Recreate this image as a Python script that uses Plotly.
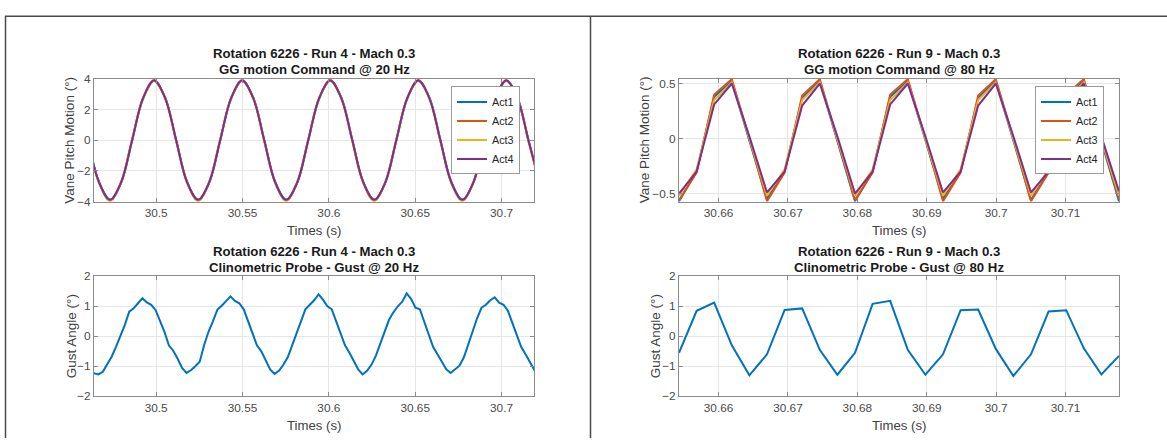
import plotly.graph_objects as go

W, H = 1167, 445

# ---------------- data ----------------
# Top-left: GG motion command @ 20 Hz (Run 4), points every 1/8 cycle
t20_cmd = [30.460550, 30.466925, 30.473300, 30.479675, 30.486050, 30.492425, 30.498800, 30.505175,
           30.511550, 30.517925, 30.524300, 30.530675, 30.537050, 30.543425, 30.549800, 30.556175,
           30.562550, 30.568925, 30.575300, 30.581675, 30.588050, 30.594425, 30.600800, 30.607175,
           30.613550, 30.619925, 30.626300, 30.632675, 30.639050, 30.645425, 30.651800, 30.658175,
           30.664550, 30.670925, 30.677300, 30.683675, 30.690050, 30.696425, 30.702800, 30.709175,
           30.715550, 30.721925]
act1_20 = [0.05, -2.70, -3.86, -2.78, -0.05, 2.70, 3.86, 2.78,
           0.05, -2.70, -3.86, -2.78, -0.05, 2.70, 3.86, 2.78,
           0.05, -2.70, -3.86, -2.78, -0.05, 2.70, 3.86, 2.78,
           0.05, -2.70, -3.86, -2.78, -0.05, 2.70, 3.86, 2.78,
           0.05, -2.70, -3.86, -2.78, -0.05, 2.70, 3.86, 2.78,
           0.05, -2.70]
act2_20 = [-0.02, -2.76, -3.90, -2.76, 0.02, 2.76, 3.90, 2.76,
           -0.02, -2.76, -3.90, -2.76, 0.02, 2.76, 3.90, 2.76,
           -0.02, -2.76, -3.90, -2.76, 0.02, 2.76, 3.90, 2.76,
           -0.02, -2.76, -3.90, -2.76, 0.02, 2.76, 3.90, 2.76,
           -0.02, -2.76, -3.90, -2.76, 0.02, 2.76, 3.90, 2.76,
           -0.02, -2.76]
act3_20 = [-0.05, -2.80, -3.95, -2.72, 0.05, 2.72, 3.85, 2.72,
           -0.05, -2.80, -3.95, -2.72, 0.05, 2.72, 3.85, 2.72,
           -0.05, -2.80, -3.95, -2.72, 0.05, 2.72, 3.85, 2.72,
           -0.05, -2.80, -3.95, -2.72, 0.05, 2.72, 3.85, 2.72,
           -0.05, -2.80, -3.95, -2.72, 0.05, 2.72, 3.85, 2.72,
           -0.05, -2.80]
act4_20 = [0.00, -2.74, -3.88, -2.74, 0.00, 2.74, 3.88, 2.74,
           0.00, -2.74, -3.88, -2.74, 0.00, 2.74, 3.88, 2.74,
           0.00, -2.74, -3.88, -2.74, 0.00, 2.74, 3.88, 2.74,
           0.00, -2.74, -3.88, -2.74, 0.00, 2.74, 3.88, 2.74,
           0.00, -2.74, -3.88, -2.74, 0.00, 2.74, 3.88, 2.74,
           0.00, -2.74]

# Bottom-left: clinometric probe gust @ 20 Hz (Run 4)
t20_gust = [30.46400, 30.46655, 30.46910, 30.47165, 30.47420, 30.47675, 30.47930, 30.48185, 30.48440, 30.48695,
            30.48950, 30.49205, 30.49460, 30.49715, 30.49970, 30.50225, 30.50480, 30.50735, 30.50990, 30.51245,
            30.51500, 30.51755, 30.52010, 30.52265, 30.52520, 30.52775, 30.53030, 30.53285, 30.53540, 30.53795,
            30.54050, 30.54305, 30.54560, 30.54815, 30.55070, 30.55325, 30.55580, 30.55835, 30.56090, 30.56345,
            30.56600, 30.56855, 30.57110, 30.57365, 30.57620, 30.57875, 30.58130, 30.58385, 30.58640, 30.58895,
            30.59150, 30.59405, 30.59660, 30.59915, 30.60170, 30.60425, 30.60680, 30.60935, 30.61190, 30.61445,
            30.61700, 30.61955, 30.62210, 30.62465, 30.62720, 30.62975, 30.63230, 30.63485, 30.63740, 30.63995,
            30.64250, 30.64505, 30.64760, 30.65015, 30.65270, 30.65525, 30.65780, 30.66035, 30.66290, 30.66545,
            30.66800, 30.67055, 30.67310, 30.67565, 30.67820, 30.68075, 30.68330, 30.68585, 30.68840, 30.69095,
            30.69350, 30.69605, 30.69860, 30.70115, 30.70370, 30.70625, 30.70880, 30.71135, 30.71390, 30.71645,
            30.71900, 30.72155]
gust_20 = [-1.23, -1.27, -1.18, -0.95, -0.68, -0.35, 0.00, 0.38, 0.82, 0.93,
           1.10, 1.27, 1.13, 1.05, 0.87, 0.50, 0.15, -0.30, -0.48, -0.75,
           -1.05, -1.22, -1.13, -1.00, -0.85, -0.30, 0.15, 0.50, 0.88, 1.02,
           1.18, 1.33, 1.18, 1.10, 0.90, 0.50, 0.10, -0.30, -0.50, -0.80,
           -1.10, -1.25, -1.15, -0.95, -0.70, -0.30, 0.10, 0.50, 0.90, 1.05,
           1.20, 1.40, 1.22, 1.00, 0.90, 0.50, 0.10, -0.30, -0.55, -0.85,
           -1.10, -1.27, -1.15, -0.95, -0.65, -0.25, 0.15, 0.55, 0.80, 1.00,
           1.15, 1.43, 1.25, 0.95, 0.90, 0.50, 0.10, -0.35, -0.60, -0.85,
           -1.10, -1.22, -1.10, -0.98, -0.70, -0.25, 0.20, 0.60, 0.95, 1.05,
           1.20, 1.30, 1.12, 1.05, 0.85, 0.45, 0.05, -0.35, -0.60, -0.85,
           -1.12, -1.22]

# Right column: Run 9, 80 Hz
t80 = [30.65430, 30.65684, 30.65937, 30.66191, 30.66444, 30.66698, 30.66952, 30.67205, 30.67459,
       30.67712, 30.67966, 30.68220, 30.68473, 30.68727, 30.68980, 30.69234, 30.69488, 30.69741,
       30.69995, 30.70248, 30.70502, 30.70756, 30.71009, 30.71263, 30.71516, 30.71770]
act1_80 = [-0.57, -0.30, 0.38, 0.52, -0.02, -0.55, -0.30, 0.37, 0.52, -0.02,
           -0.57, -0.30, 0.38, 0.52, -0.02, -0.55, -0.30, 0.37, 0.52, -0.02,
           -0.56, -0.30, 0.38, 0.52, -0.02, -0.57]
act2_80 = [-0.56, -0.31, 0.40, 0.54, 0.00, -0.57, -0.31, 0.39, 0.54, 0.00,
           -0.56, -0.31, 0.40, 0.54, 0.00, -0.57, -0.31, 0.39, 0.54, 0.00,
           -0.57, -0.31, 0.40, 0.54, 0.00, -0.55]
act3_80 = [-0.52, -0.28, 0.35, 0.51, 0.00, -0.52, -0.28, 0.35, 0.51, 0.00,
           -0.52, -0.28, 0.35, 0.51, 0.00, -0.52, -0.28, 0.35, 0.51, 0.00,
           -0.52, -0.28, 0.35, 0.51, 0.00, -0.52]
act4_80 = [-0.50, -0.30, 0.31, 0.50, 0.02, -0.49, -0.30, 0.30, 0.50, 0.02,
           -0.50, -0.30, 0.31, 0.50, 0.02, -0.49, -0.30, 0.30, 0.50, 0.02,
           -0.49, -0.30, 0.31, 0.50, 0.02, -0.48]
gust_80 = [-0.55, 0.85, 1.12, -0.30, -1.30, -0.60, 0.88, 0.93, -0.45, -1.28,
           -0.55, 1.08, 1.18, -0.45, -1.28, -0.60, 0.87, 0.89, -0.42, -1.32,
           -0.60, 0.83, 0.87, -0.40, -1.27, -0.65]

act_names = ["Act1", "Act2", "Act3", "Act4"]
act_colors = ["#0072BD", "#D95319", "#EDB120", "#7E2F8E"]

xrange_20 = [30.4640, 30.7188]
xrange_80 = [30.6543, 30.7177]
ticks_20 = [30.5, 30.55, 30.6, 30.65, 30.7]
ticklabels_20 = ["30.5", "30.55", "30.6", "30.65", "30.7"]
ticks_80 = [30.66, 30.67, 30.68, 30.69, 30.70, 30.71]
ticklabels_80 = ["30.66", "30.67", "30.68", "30.69", "30.7", "30.71"]

titles = [
    ("Rotation 6226 - Run 4 - Mach 0.3", "GG motion Command @ 20 Hz"),
    ("Rotation 6226 - Run 9 - Mach 0.3", "GG motion Command @ 80 Hz"),
    ("Rotation 6226 - Run 4 - Mach 0.3", "Clinometric Probe - Gust @ 20 Hz"),
    ("Rotation 6226 - Run 9 - Mach 0.3", "Clinometric Probe - Gust @ 80 Hz"),
]
xlabel = "Times (s)"
ylabel_motion = "Vane Pitch Motion (°)"
ylabel_gust = "Gust Angle (°)"

# ---------------- layout helpers ----------------
FONT = "Liberation Sans, Arial, Helvetica, sans-serif"


def px(x):
    return x / W


def py(y):
    return 1 - y / H


# axes boxes in pixels: (x0, x1, y0, y1)
boxes = {
    "tl": (94, 534, 74, 201),
    "tr": (679, 1119, 74, 201),
    "bl": (94, 534, 278, 402),
    "br": (679, 1119, 278, 402),
}

fig = go.Figure()

act20 = [act1_20, act2_20, act3_20, act4_20]
act80 = [act1_80, act2_80, act3_80, act4_80]
for name, col, ys in zip(act_names, act_colors, act20):
    fig.add_trace(go.Scatter(x=t20_cmd, y=ys, mode="lines", name=name,
                             line=dict(color=col, width=2, shape="spline", smoothing=1.0),
                             xaxis="x", yaxis="y", legend="legend"))
for name, col, ys in zip(act_names, act_colors, act80):
    fig.add_trace(go.Scatter(x=t80, y=ys, mode="lines", name=name,
                             line=dict(color=col, width=2),
                             xaxis="x2", yaxis="y2", legend="legend2"))
fig.add_trace(go.Scatter(x=t20_gust, y=gust_20, mode="lines", showlegend=False,
                         line=dict(color=act_colors[0], width=2),
                         xaxis="x3", yaxis="y3"))
fig.add_trace(go.Scatter(x=t80, y=gust_80, mode="lines", showlegend=False,
                         line=dict(color=act_colors[0], width=2),
                         xaxis="x4", yaxis="y4"))

axis_common = dict(
    showline=True, linecolor="#8c8c8c", linewidth=1, mirror="ticks",
    ticks="inside", ticklen=4, tickcolor="#8c8c8c", tickwidth=1,
    showgrid=True, gridcolor="#e6e6e6", gridwidth=1, zeroline=False,
    tickfont=dict(family=FONT, size=11.8, color="#4a4a4a"),
)


def xdom(b):
    return [px(b[0]), px(b[1])]


def ydom(b):
    return [py(b[3]), py(b[2])]


layout_axes = {}
order = [("tl", "", "y", ticks_20, ticklabels_20, xrange_20, [-4, 4], [-4, -2, 0, 2, 4]),
         ("tr", "2", "y2", ticks_80, ticklabels_80, xrange_80, [-0.574, 0.544], [-0.5, 0, 0.5]),
         ("bl", "3", "y3", ticks_20, ticklabels_20, xrange_20, [-2, 2], [-2, -1, 0, 1, 2]),
         ("br", "4", "y4", ticks_80, ticklabels_80, xrange_80, [-2, 2], [-2, -1, 0, 1, 2])]
for key, sfx, yname, tv, tt, xr, yr, yt in order:
    b = boxes[key]
    layout_axes["xaxis" + sfx] = dict(axis_common, domain=xdom(b), range=xr, tickvals=tv,
                                      ticktext=tt, anchor=yname)
    layout_axes["yaxis" + sfx] = dict(axis_common, domain=ydom(b), range=yr, tickvals=yt,
                                      anchor="x" + sfx)

fig.update_layout(**layout_axes)

legend_common = dict(
    bgcolor="white", bordercolor="#9a9a9a", borderwidth=1,
    font=dict(family=FONT, size=10.8, color="#262626"),
    xanchor="right", yanchor="top", itemwidth=30, tracegroupgap=0,
)
fig.update_layout(
    legend=dict(legend_common, x=px(520), y=py(82)),
    legend2=dict(legend_common, x=px(1104), y=py(82)),
)

annotations = []
for key, (l1, l2) in zip(["tl", "tr", "bl", "br"], titles):
    b = boxes[key]
    cx = px((b[0] + b[1]) / 2)
    ty1 = b[2] - 26
    ty2 = b[2] - 9.5
    for txt, yy in ((l1, ty1), (l2, ty2)):
        annotations.append(dict(text="<b>" + txt + "</b>", x=cx, y=py(yy), xref="paper", yref="paper",
                                xanchor="center", yanchor="middle", showarrow=False,
                                font=dict(family=FONT, size=13.2, color="#1a1a1a")))
    annotations.append(dict(text=xlabel, x=cx, y=py(b[3] + 30), xref="paper", yref="paper",
                            xanchor="center", yanchor="middle", showarrow=False,
                            font=dict(family=FONT, size=13.2, color="#404040")))
ylab_x = {"tl": 69.5, "tr": 644, "bl": 71, "br": 655}
for key, txt in (("tl", ylabel_motion), ("tr", ylabel_motion), ("bl", ylabel_gust), ("br", ylabel_gust)):
    b = boxes[key]
    annotations.append(dict(text=txt, x=px(ylab_x[key]), y=py((b[2] + b[3]) / 2), xref="paper",
                            yref="paper", xanchor="center", yanchor="middle", showarrow=False,
                            textangle=-90, font=dict(family=FONT, size=13.5, color="#404040")))

frame_col = "#4a4a4a"
shapes = [
    dict(type="line", xref="paper", yref="paper", x0=px(5), x1=1, y0=py(9.5), y1=py(9.5),
         line=dict(color=frame_col, width=1.5)),
    dict(type="line", xref="paper", yref="paper", x0=px(5.5), x1=px(5.5), y0=py(9.5), y1=0,
         line=dict(color=frame_col, width=1.5)),
    dict(type="line", xref="paper", yref="paper", x0=px(590.5), x1=px(590.5), y0=py(9.5), y1=0,
         line=dict(color=frame_col, width=1.5)),
]

fig.update_layout(
    width=W, height=H, margin=dict(l=0, r=0, t=0, b=0, pad=0),
    paper_bgcolor="white", plot_bgcolor="white",
    annotations=annotations, shapes=shapes,
    font=dict(family=FONT),
)

fig.write_html("out.html", config={"displayModeBar": False},
               post_script="document.body.style.margin='0px';document.body.style.overflow='hidden';")
